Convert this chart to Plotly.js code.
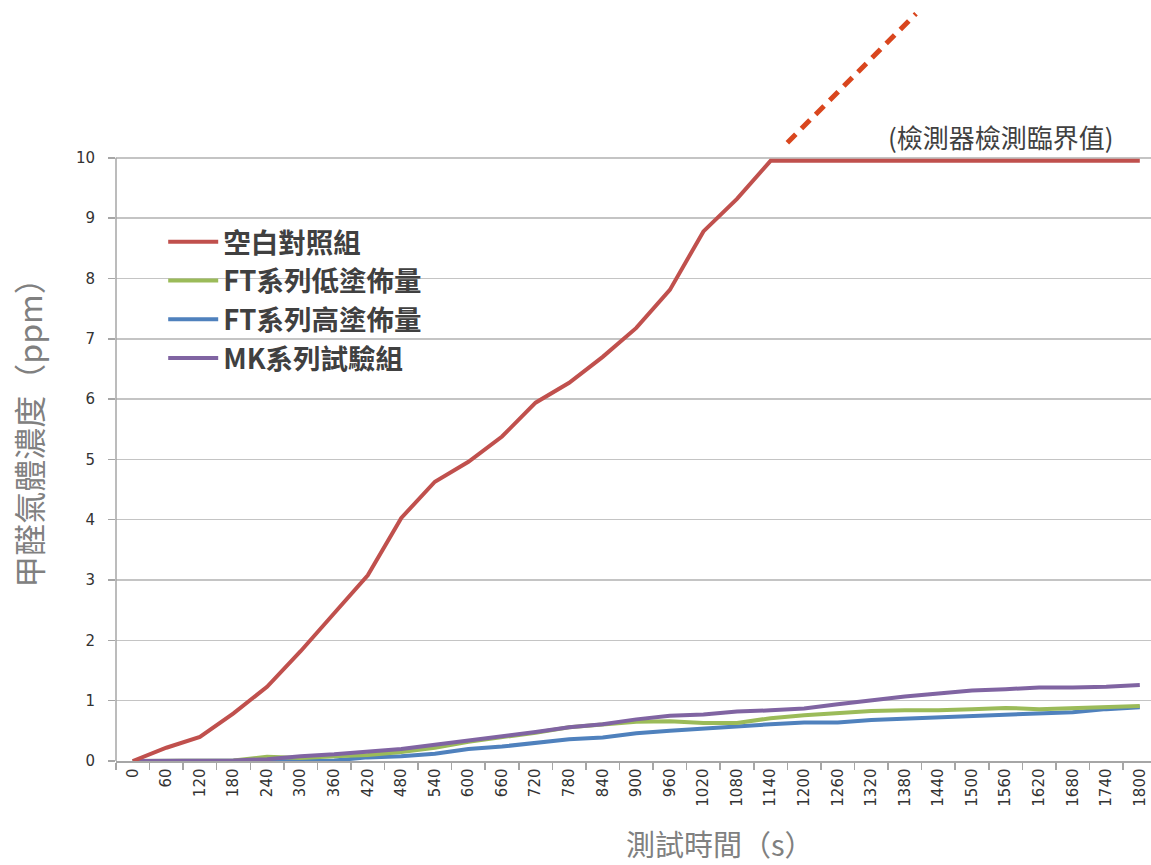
<!DOCTYPE html>
<html>
<head>
<meta charset="utf-8">
<script src="https://cdn.plot.ly/plotly-3.0.1.min.js"></script>
<style>html,body{margin:0;padding:0;background:#fff;}</style>
</head>
<body>
<div id="chart" style="width:1151px;height:865px;"></div>
<script>
const times = [0,60,120,180,240,300,360,420,480,540,600,660,720,780,840,900,960,1020,1080,1140,1200,1260,1320,1380,1440,1500,1560,1620,1680,1740,1800];
const blank = [0,0.22,0.4,0.79,1.23,1.82,2.45,3.08,4.03,4.63,4.96,5.38,5.94,6.27,6.7,7.18,7.81,8.78,9.32,9.95,9.95,9.95,9.95,9.95,9.95,9.95,9.95,9.95,9.95,9.95,9.95];
const ftLow = [0,0,0,0.01,0.07,0.05,0.08,0.1,0.15,0.22,0.32,0.39,0.47,0.56,0.61,0.65,0.66,0.63,0.63,0.71,0.76,0.79,0.83,0.84,0.84,0.86,0.88,0.86,0.88,0.9,0.91];
const ftHigh = [0,0,0,0,0,0,0.01,0.06,0.08,0.12,0.2,0.24,0.3,0.36,0.39,0.46,0.5,0.54,0.57,0.61,0.64,0.64,0.68,0.7,0.72,0.74,0.77,0.79,0.81,0.86,0.89];
const mk = [0,0,0,0.01,0.03,0.08,0.11,0.15,0.2,0.27,0.34,0.4,0.48,0.56,0.61,0.69,0.75,0.77,0.82,0.84,0.87,0.94,1.01,1.07,1.12,1.17,1.19,1.22,1.22,1.23,1.26];
const extrapX = [1170,1400];
const extrapY = [10.25,12.39];
const names = ['空白對照組','FT系列低塗佈量','FT系列高塗佈量','MK系列試驗組'];
const colors = ['#c0504d','#9bbb59','#4f81bd','#8064a2'];
const yTicks = [0,1,2,3,4,5,6,7,8,9,10];
const limitLabel = '(檢測器檢測臨界值)';
const xTitle = '測試時間（s）';
const yTitle = '甲醛氣體濃度（ppm）';

const series = [blank, ftLow, ftHigh, mk];
const traces = [];
const order = [2,1,3,0];
order.forEach(i => {
  traces.push({
    x: times, y: series[i], type:'scatter', mode:'lines', name: names[i],
    line:{color: colors[i], width:4}, legendrank: i+1, legendgroup: 'g'+i
  });
});
traces.push({
  x: extrapX, y: extrapY, type:'scatter', mode:'lines', showlegend:false,
  line:{color:'#d9461e', width:5, dash:'12px,8px'}, hoverinfo:'skip'
});

const cjk = '"Noto Sans CJK TC", "Noto Sans CJK SC", sans-serif';
const layout = {
  width:1151, height:865,
  margin:{l:116, r:0, t:4, b:104},
  paper_bgcolor:'#ffffff', plot_bgcolor:'#ffffff',
  showlegend:true,
  legend:{
    x:0.0456, y:0.718, xanchor:'left', yanchor:'top',
    bgcolor:'rgba(255,255,255,0)', borderwidth:0,
    font:{family:cjk, size:27.5, color:'#404040', weight:'bold'},
    tracegroupgap:0, itemwidth:50
  },
  xaxis:{
    type:'linear', range:[-30,1820], tickmode:'array', tickvals:times, ticktext:times.map(String),
    tickangle:-90, ticks:'', showgrid:false, zeroline:false,
    showline:true, linecolor:'#a6a6a6', linewidth:1.5,
    tickfont:{family:'DejaVu Sans, sans-serif', size:15, color:'#333333'},
    minor:{tick0:-30, dtick:60, ticks:'outside', ticklen:7, tickcolor:'#a6a6a6', tickwidth:1.5, showgrid:false},
    fixedrange:true
  },
  yaxis:{
    range:[0,12.55], tickmode:'array', tickvals:yTicks, ticktext:yTicks.map(String),
    ticks:'outside', ticklen:7, tickcolor:'#a6a6a6', tickwidth:1.5,
    showgrid:true, gridcolor:'#c4c4c4', gridwidth:1.5, zeroline:false, showline:false,
    tickfont:{family:'DejaVu Sans, sans-serif', size:15, color:'#333333'},
    ticklabelstandoff:10, fixedrange:true
  },
  shapes:[
    {type:'rect', xref:'paper', yref:'y', x0:0.0348, x1:0.313, y0:6.4, y1:8.89, layer:'between',
     fillcolor:'#ffffff', line:{width:0}},
    {type:'line', xref:'paper', yref:'y', x0:0, x1:0, y0:0, y1:10, line:{color:'#a6a6a6', width:1.5}}
  ],
  annotations:[
    {xref:'x', yref:'y', x:1552, y:10.36, text:limitLabel, showarrow:false, xanchor:'center', yanchor:'middle',
     font:{family:cjk, size:26, color:'#404040'}},
    {xref:'x', yref:'paper', x:1050, y:-0.108, text:xTitle, showarrow:false, xanchor:'center', yanchor:'middle',
     font:{family:cjk, size:29, color:'#808080'}},
    {xref:'paper', yref:'y', x:-0.085, y:5.56, text:yTitle, showarrow:false, xanchor:'center', yanchor:'middle', textangle:-90,
     font:{family:cjk, size:32, color:'#808080'}}
  ]
};
Plotly.newPlot('chart', traces, layout, {displayModeBar:false, staticPlot:true});
</script>
</body>
</html>
